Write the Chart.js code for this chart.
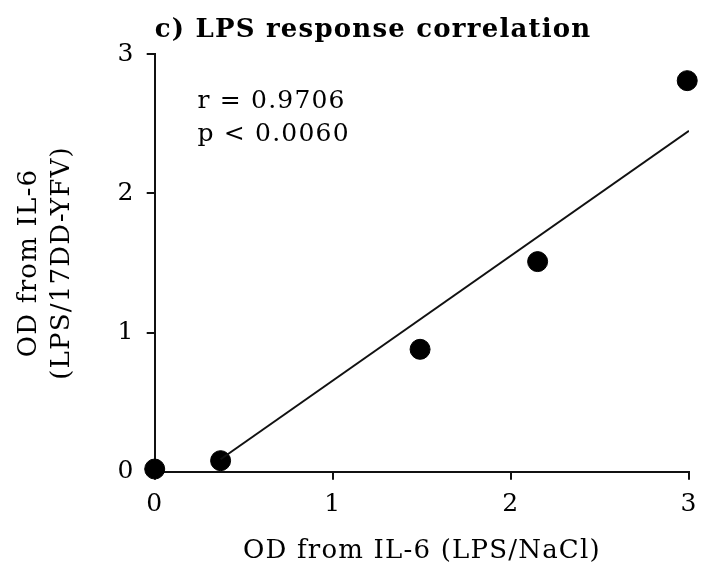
<!DOCTYPE html>
<html>
<head>
<meta charset="utf-8">
<script src="https://cdn.jsdelivr.net/npm/chart.js@4"></script>
<style>
  html, body { margin: 0; padding: 0; background: #fff; }
  #wrap { width: 702px; height: 571px; }
</style>
</head>
<body>
<div id="wrap"><canvas id="lpsChart"></canvas></div>
<script>
// values
const xVals = [0.0, 0.37, 1.49, 2.15, 2.99];
const yVals = [0.02, 0.08, 0.88, 1.51, 2.81];
// regression line end points
const fitX = [0.37, 3.0];
const fitY = [0.09, 2.45];
const tickVals = [0, 1, 2, 3];
const statLines = ["r = 0.9706", "p < 0.0060"];

const serif = "'DejaVu Serif', 'Liberation Serif', serif";
const spacing = '1.2px'; // the original font is wide, widen ours a bit

const points = xVals.map((x, i) => ({x: x, y: yVals[i]}));
const fitLine = fitX.map((x, i) => ({x: x, y: fitY[i]}));

// letterSpacing gets reset whenever the canvas is resized, so set it again
const wideText = {
    id: 'wideText',
    beforeLayout(chart) { chart.ctx.letterSpacing = spacing; },
    beforeDraw(chart) { chart.ctx.letterSpacing = spacing; }
};

const statsText = {
    id: 'statsText',
    afterDatasetsDraw(chart) {
        const ctx = chart.ctx;
        const xs = chart.scales.x, ys = chart.scales.y;
        ctx.save();
        ctx.fillStyle = '#000';
        ctx.font = "25px " + serif;
        ctx.textBaseline = 'middle';
        ctx.textAlign = 'left';
        ctx.fillText(statLines[0], xs.getPixelForValue(0.24), ys.getPixelForValue(2.66));
        ctx.fillText(statLines[1], xs.getPixelForValue(0.24), ys.getPixelForValue(2.42));
        ctx.restore();
    }
};

const lpsChart = new Chart(document.getElementById('lpsChart'), {
    type: 'scatter',
    data: {
        datasets: [{
            label: 'fit',
            type: 'line',
            data: fitLine,
            borderColor: '#111',
            borderWidth: 2,
            pointRadius: 0,
            fill: false
        }, {
            label: 'LPS',
            data: points,
            backgroundColor: '#000',
            borderColor: '#000',
            pointRadius: 10,
            clip: false
        }]
    },
    options: {
        responsive: true,
        maintainAspectRatio: false,
        animation: false,
        layout: {padding: {left: 8, right: 0, top: 0, bottom: 0}},
        plugins: {
            legend: {display: false},
            tooltip: {enabled: false},
            title: {
                display: true,
                text: 'c) LPS response correlation',
                align: 'start',
                fullSize: false,
                color: '#000',
                font: {family: serif, size: 26, weight: 'bold', lineHeight: 1.2},
                padding: {top: 15, bottom: 8}
            }
        },
        scales: {
            x: {
                type: 'linear',
                min: 0,
                max: 3,
                afterBuildTicks: (s) => { s.ticks = tickVals.map(v => ({value: v})); },
                // the tick padding would push the right edge in too far
                afterFit: (s) => { s.paddingRight = 13; },
                border: {color: '#111', width: 2},
                grid: {drawOnChartArea: false, drawTicks: true, tickLength: 8, color: '#111', lineWidth: 2},
                ticks: {color: '#000', font: {family: serif, size: 25}, padding: 10},
                title: {
                    display: true,
                    text: 'OD from IL-6 (LPS/NaCl)',
                    color: '#000',
                    font: {family: serif, size: 26},
                    padding: {top: 6}
                }
            },
            y: {
                type: 'linear',
                min: 0,
                max: 3,
                afterBuildTicks: (s) => { s.ticks = tickVals.map(v => ({value: v})); },
                border: {color: '#111', width: 2},
                grid: {drawOnChartArea: false, drawTicks: true, tickLength: 8, color: '#111', lineWidth: 2},
                ticks: {color: '#000', font: {family: serif, size: 25}, padding: 12},
                title: {
                    display: true,
                    text: ['OD from IL-6', '(LPS/17DD-YFV)'],
                    color: '#000',
                    font: {family: serif, size: 26, lineHeight: 1.3},
                    padding: {bottom: 26}
                }
            }
        }
    },
    plugins: [wideText, statsText]
});
</script>
</body>
</html>
